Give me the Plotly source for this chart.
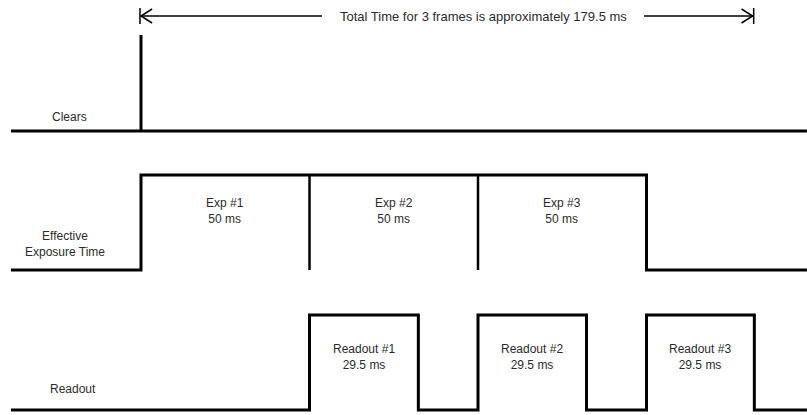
import plotly.graph_objects as go

# ---- data (time in ms, schematic scale) ----
x_start, x_end = -38.6, 197.6
clear_time = 0.0
exposure_starts = [0, 50, 100]
exposure_end = 150
exposure_labels = ["Exp #1<br>50 ms", "Exp #2<br>50 ms", "Exp #3<br>50 ms"]
readout_starts = [50, 100, 150]
readout_ends = [82.3, 132.2, 182]
readout_labels = ["Readout #1<br>29.5 ms", "Readout #2<br>29.5 ms", "Readout #3<br>29.5 ms"]
total_span = [0, 181.5]
total_label = "Total Time for 3 frames is approximately 179.5 ms"
row_names = ["Clears", "Effective<br>Exposure Time", "Readout"]

# signal levels (vertical positions, top = 0)
clears_low, clears_high = 131, 35
exp_low, exp_high = 270, 175
ro_low, ro_high = 410, 315
arrow_y = 16

LW = 3
BLACK = "black"
TXT = "#2b2b2b"
FONT = "Liberation Sans"

fig = go.Figure()

def line(xs, ys, w=LW):
    fig.add_trace(go.Scatter(x=xs, y=ys, mode="lines",
                             line=dict(color=BLACK, width=w),
                             hoverinfo="skip", showlegend=False))

# Clears
line([x_start, clear_time, clear_time, clear_time, x_end],
     [clears_low, clears_low, clears_high, clears_low, clears_low])

# Exposure
line([x_start, exposure_starts[0], exposure_starts[0], exposure_end, exposure_end, x_end],
     [exp_low, exp_low, exp_high, exp_high, exp_low, exp_low])
for s in exposure_starts[1:]:
    line([s, s], [exp_high, exp_low], w=2.5)

# Readout
rx, ry = [x_start], [ro_low]
for s, e in zip(readout_starts, readout_ends):
    rx += [s, s, e, e]
    ry += [ro_low, ro_high, ro_high, ro_low]
rx.append(x_end); ry.append(ro_low)
line(rx, ry)

# Total time arrow
t0, t1 = total_span
mid = 101.5
gap = 47.8
head_dx, head_dy = 3.3, 7
aw = 1.5
line([t0, mid - gap], [arrow_y, arrow_y], w=aw)
line([mid + gap, t1], [arrow_y, arrow_y], w=aw)
line([t0 + head_dx, t0, t0 + head_dx], [arrow_y - head_dy, arrow_y, arrow_y + head_dy], w=aw)
line([t1 - head_dx, t1, t1 - head_dx], [arrow_y - head_dy, arrow_y, arrow_y + head_dy], w=aw)
line([t0 - 0.3, t0 - 0.3], [arrow_y - 8, arrow_y + 8], w=aw)
line([t1 + 0.3, t1 + 0.3], [arrow_y - 8, arrow_y + 8], w=aw)

ann = []
def text(x, y, s, size=12):
    ann.append(dict(x=x, y=y, text=s, showarrow=False, xref="x", yref="y",
                    font=dict(family=FONT, size=size, color=TXT), align="center"))

text(mid, arrow_y, total_label, size=13)
text(-21.3, 117, row_names[0])
text(-22.5, 244, row_names[1])
text(-20.2, 389, row_names[2])
for s, lab in zip(exposure_starts, exposure_labels):
    text(s + 25, 211, lab)
for s, e, lab in zip(readout_starts, readout_ends, readout_labels):
    text((s + e) / 2, 357, lab)

fig.update_layout(
    width=807, height=415,
    margin=dict(l=0, r=0, t=0, b=0),
    paper_bgcolor="white", plot_bgcolor="white",
    xaxis=dict(range=[-141 / 3.37, 666 / 3.37], visible=False, fixedrange=True),
    yaxis=dict(range=[415, 0], visible=False, fixedrange=True),
    annotations=ann,
)

fig.write_html("out.html", config={"displayModeBar": False},
               post_script="document.body.style.margin='0';document.body.style.overflow='hidden';")
